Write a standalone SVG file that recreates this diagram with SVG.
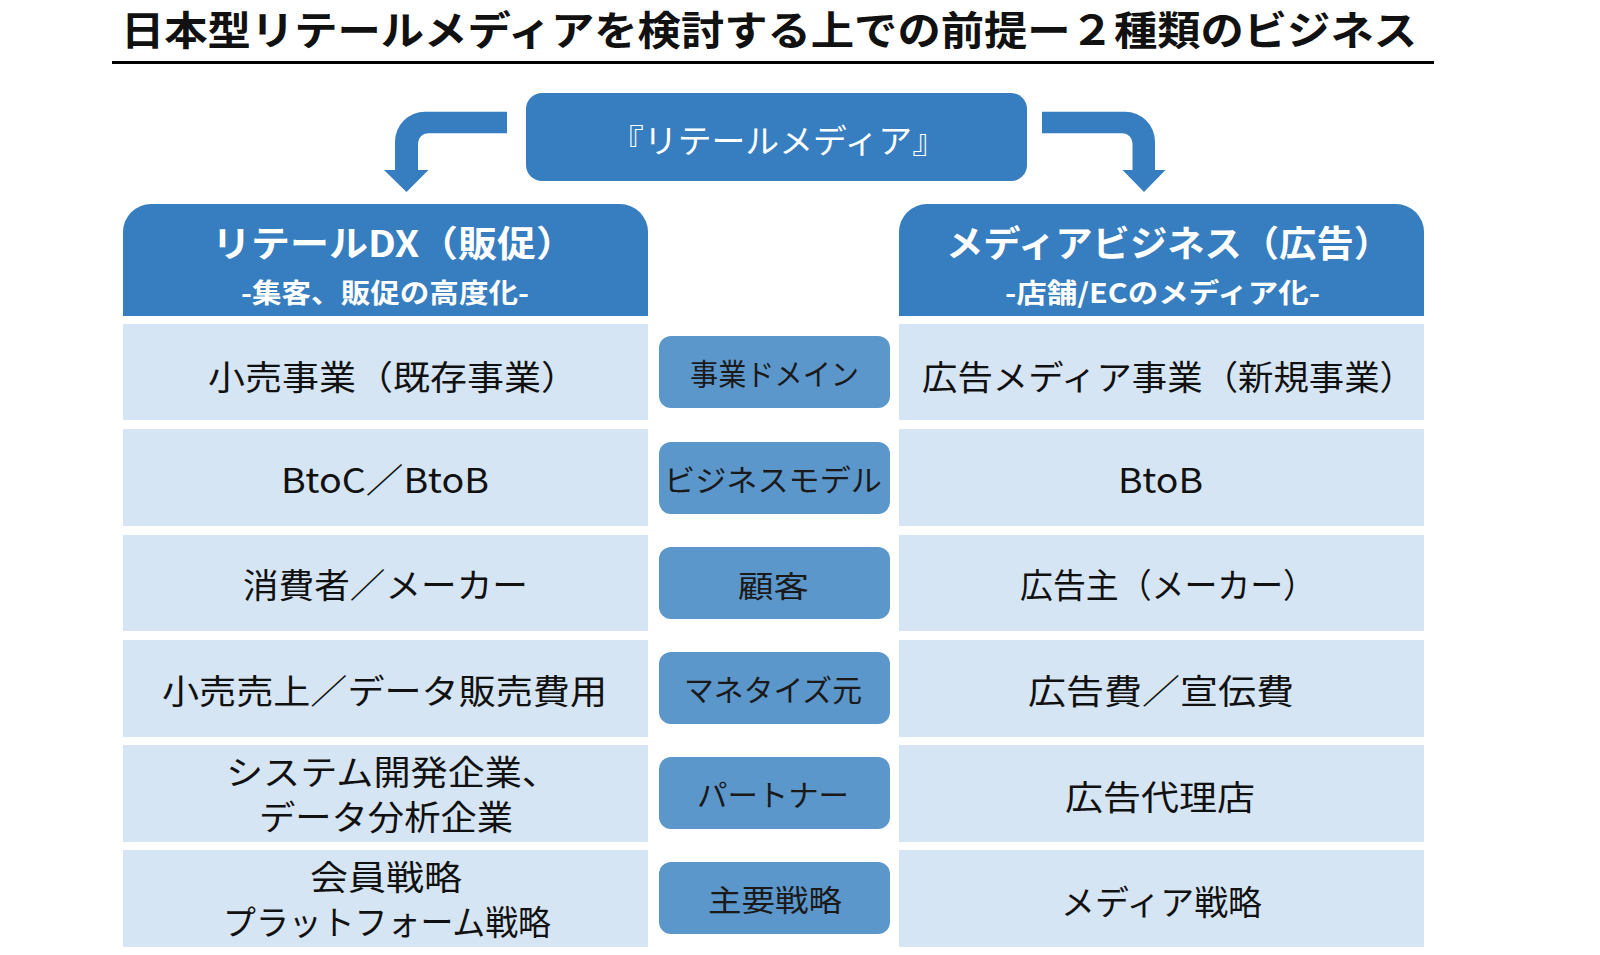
<svg xmlns="http://www.w3.org/2000/svg" width="1600" height="955" viewBox="0 0 1600 955">
<style>
text{font-family:"Noto Sans CJK JP","Noto Sans CJK SC",sans-serif}
.title{font-size:40px;font-weight:700;fill:#111}
.dark{fill:#367EBF}
.pill{fill:#5C97CB}
.cell{fill:#D6E5F3}
.hd{font-size:36px;font-weight:700;fill:#fff}
.sub{font-size:27px;font-weight:700;fill:#fff}
.top{font-size:33px;fill:#fff}
.ct{font-size:34px;fill:#111}
.pt{font-size:30px;fill:#1a1a1a}
</style>
<rect width="1600" height="955" fill="#fff"/>
<g id="title">
<text class="title" x="121" y="45" textLength="1296" lengthAdjust="spacingAndGlyphs">日本型リテールメディアを検討する上での前提ー２種類のビジネス</text>
<line x1="112" y1="62.5" x2="1434" y2="62.5" stroke="#000" stroke-width="3"/>
</g>
<g id="retail-media">
<rect class="dark" x="526" y="93" width="501" height="88" rx="16"/>
<text class="top" x="610" y="153" textLength="336" lengthAdjust="spacingAndGlyphs">『リテールメディア』</text>
</g>
<g id="connectors">
<path class="dark" d="M507,111.7 H425 A30,30 0 0 0 395,141.7 V170 H384 L406.5,192 L428.5,170 H418 V143.3 A10,10 0 0 1 428,133.3 H507 Z"/>
<path class="dark" d="M1042,111.7 H1125 A30,30 0 0 1 1155,141.7 V170 H1165.5 L1144,192 L1122.5,170 H1132.5 V143.3 A10,10 0 0 0 1122.5,133.3 H1042 Z"/>
</g>
<g id="header-left">
<path class="dark" d="M123,316 V232 A28,28 0 0 1 151,204 H620 A28,28 0 0 1 648,232 V316 Z"/>
<text class="hd" x="212" y="257" textLength="363" lengthAdjust="spacingAndGlyphs">リテールDX（販促）</text>
<text class="sub" x="241" y="303" textLength="288" lengthAdjust="spacingAndGlyphs">-集客、販促の高度化-</text>
</g>
<g id="header-right">
<path class="dark" d="M899,316 V232 A28,28 0 0 1 927,204 H1396 A28,28 0 0 1 1424,232 V316 Z"/>
<text class="hd" x="946" y="257" textLength="445" lengthAdjust="spacingAndGlyphs">メディアビジネス（広告）</text>
<text class="sub" x="1005" y="303" textLength="315" lengthAdjust="spacingAndGlyphs">-店舗/ECのメディア化-</text>
</g>
<g id="row1">
<rect class="cell" x="123" y="324" width="525" height="96"/>
<rect class="pill" x="659" y="336" width="231" height="72" rx="12"/>
<rect class="cell" x="899" y="324" width="525" height="96"/>
<text class="ct" x="208" y="390" textLength="370" lengthAdjust="spacingAndGlyphs">小売事業（既存事業）</text>
<text class="pt" x="690" y="385" textLength="169" lengthAdjust="spacingAndGlyphs">事業ドメイン</text>
<text class="ct" x="922" y="390" textLength="493" lengthAdjust="spacingAndGlyphs">広告メディア事業（新規事業）</text>
</g>
<g id="row2">
<rect class="cell" x="123" y="429" width="525" height="97"/>
<rect class="pill" x="659" y="442" width="231" height="72" rx="12"/>
<rect class="cell" x="899" y="429" width="525" height="97"/>
<text class="ct" x="281" y="493" textLength="208" lengthAdjust="spacingAndGlyphs">BtoC／BtoB</text>
<text class="pt" x="664" y="491" textLength="218" lengthAdjust="spacingAndGlyphs">ビジネスモデル</text>
<text class="ct" x="1118" y="493" textLength="85" lengthAdjust="spacingAndGlyphs">BtoB</text>
</g>
<g id="row3">
<rect class="cell" x="123" y="535" width="525" height="96"/>
<rect class="pill" x="659" y="547" width="231" height="72" rx="12"/>
<rect class="cell" x="899" y="535" width="525" height="96"/>
<text class="ct" x="243" y="598" textLength="285" lengthAdjust="spacingAndGlyphs">消費者／メーカー</text>
<text class="pt" x="738" y="597" textLength="71" lengthAdjust="spacingAndGlyphs">顧客</text>
<text class="ct" x="1020" y="598" textLength="296" lengthAdjust="spacingAndGlyphs">広告主（メーカー）</text>
</g>
<g id="row4">
<rect class="cell" x="123" y="640" width="525" height="97"/>
<rect class="pill" x="659" y="652" width="231" height="72" rx="12"/>
<rect class="cell" x="899" y="640" width="525" height="97"/>
<text class="ct" x="162" y="704" textLength="445" lengthAdjust="spacingAndGlyphs">小売売上／データ販売費用</text>
<text class="pt" x="684" y="701" textLength="178" lengthAdjust="spacingAndGlyphs">マネタイズ元</text>
<text class="ct" x="1028" y="704" textLength="266" lengthAdjust="spacingAndGlyphs">広告費／宣伝費</text>
</g>
<g id="row5">
<rect class="cell" x="123" y="745" width="525" height="97"/>
<rect class="pill" x="659" y="757" width="231" height="72" rx="12"/>
<rect class="cell" x="899" y="745" width="525" height="97"/>
<text class="ct" x="226" y="785" textLength="333" lengthAdjust="spacingAndGlyphs">システム開発企業、</text>
<text class="ct" x="259" y="830" textLength="254" lengthAdjust="spacingAndGlyphs">データ分析企業</text>
<text class="pt" x="697" y="806" textLength="152" lengthAdjust="spacingAndGlyphs">パートナー</text>
<text class="ct" x="1065" y="810" textLength="190" lengthAdjust="spacingAndGlyphs">広告代理店</text>
</g>
<g id="row6">
<rect class="cell" x="123" y="850" width="525" height="97"/>
<rect class="pill" x="659" y="862" width="231" height="72" rx="12"/>
<rect class="cell" x="899" y="850" width="525" height="97"/>
<text class="ct" x="310" y="890" textLength="152" lengthAdjust="spacingAndGlyphs">会員戦略</text>
<text class="ct" x="223" y="935" textLength="328" lengthAdjust="spacingAndGlyphs">プラットフォーム戦略</text>
<text class="pt" x="708" y="911" textLength="134" lengthAdjust="spacingAndGlyphs">主要戦略</text>
<text class="ct" x="1061" y="915" textLength="201" lengthAdjust="spacingAndGlyphs">メディア戦略</text>
</g>
</svg>
